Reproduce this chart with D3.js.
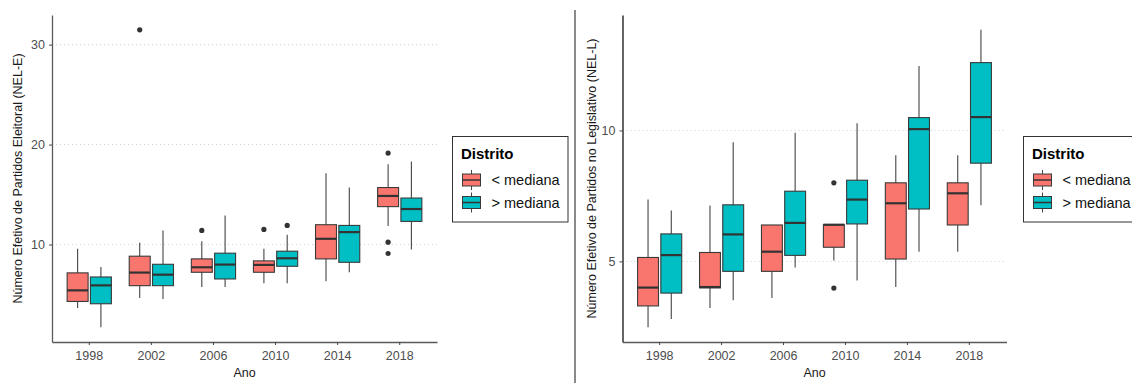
<!DOCTYPE html>
<html lang="pt">

<head>
    <meta charset="UTF-8">
    <title>NEL-E e NEL-L por Ano e Distrito</title>
    <script src="https://d3js.org/d3.v7.min.js"></script>
    <style>
        body {
            margin: 0;
            background: #fff;
            font-family: "Liberation Sans", Arial, sans-serif;
        }

        .axis text {
            font-size: 12.5px;
            fill: #4d4d4d;
        }

        .titulo-eixo {
            font-size: 12.5px;
            fill: #1a1a1a;
        }

        .grade line {
            stroke: #cfcfcf;
            stroke-dasharray: 1, 3;
        }
    </style>
</head>

<body>
    <div id="chart"></div>

    <script>
        // Dados: [limite inferior, Q1, mediana, Q3, limite superior]
        const anos = ["1998", "2002", "2006", "2010", "2014", "2018"];
        const distritos = ["< mediana", "> mediana"];

        const nelE_menor = [
            [3.64, 4.30, 5.41, 7.16, 9.57],
            [4.64, 5.88, 7.19, 8.83, 10.17],
            [5.75, 7.22, 7.72, 8.56, 10.33],
            [6.11, 7.22, 7.96, 8.36, 9.57],
            [6.31, 8.56, 10.57, 11.98, 17.14],
            [11.84, 13.79, 14.86, 15.70, 18.04]
        ];
        const nelE_maior = [
            [1.73, 4.07, 5.91, 6.75, 7.76],
            [4.54, 5.88, 6.98, 8.02, 11.41],
            [5.75, 6.55, 7.99, 9.13, 12.91],
            [6.11, 7.82, 8.62, 9.33, 10.97],
            [7.22, 8.22, 11.24, 11.91, 15.70],
            [9.50, 12.31, 13.55, 14.65, 18.31]
        ];
        // outliers: [ano, distrito, valor]
        const nelE_outliers = [
            ["2002", "< mediana", 31.48],
            ["2006", "< mediana", 11.41],
            ["2010", "< mediana", 11.51],
            ["2010", "> mediana", 11.91],
            ["2018", "< mediana", 19.15],
            ["2018", "< mediana", 10.23],
            ["2018", "< mediana", 9.10]
        ];
        const nelE_ticks = [10, 20, 30];

        const nelL_menor = [
            [2.49, 3.30, 4.00, 5.15, 7.36],
            [3.22, 3.99, 4.02, 5.34, 7.13],
            [3.60, 4.62, 5.37, 6.39, 6.39],
            [5.03, 5.54, 6.40, 6.40, 6.40],
            [4.02, 5.09, 7.22, 8.00, 9.05],
            [5.37, 6.39, 7.60, 8.00, 9.05]
        ];
        const nelL_maior = [
            [2.80, 3.79, 5.24, 6.05, 6.94],
            [3.52, 4.62, 6.03, 7.16, 9.55],
            [4.77, 5.23, 6.47, 7.68, 9.91],
            [4.27, 6.43, 7.36, 8.10, 10.27],
            [5.37, 7.00, 10.05, 10.49, 12.46],
            [7.14, 8.75, 10.51, 12.59, 13.84]
        ];
        const nelL_outliers = [
            ["2010", "< mediana", 8.00],
            ["2010", "< mediana", 3.98]
        ];
        const nelL_ticks = [5, 10];

        const cores = d3.scaleOrdinal().domain(distritos).range(["#F8766D", "#00BFC4"]);

        let svg = d3.select("#chart").append("svg")
            .attr("width", 1132)
            .attr("height", 383);

        // linha separadora entre os dois gráficos
        svg.append("line")
            .attr("x1", 575).attr("x2", 575)
            .attr("y1", 10).attr("y2", 383)
            .attr("stroke", "#8a8a8a")
            .attr("stroke-width", 2);

        function montar(menor, maior) {
            let linhas = [];
            anos.forEach((ano, i) => {
                [menor, maior].forEach((serie, j) => {
                    let s = serie[i];
                    linhas.push({ ano: ano, distrito: distritos[j], lo: s[0], q1: s[1], med: s[2], q3: s[3], hi: s[4] });
                });
            });
            return linhas;
        }

        function painel(cfg) {
            let dados = montar(cfg.menor, cfg.maior);
            let g = svg.append("g");

            // escala x discreta (expansão de 0.6 unidade de cada lado)
            let x = d3.scaleBand()
                .domain(anos)
                .range([cfg.x0, cfg.x1])
                .paddingInner(0)
                .paddingOuter(0.1);
            let passo = x.step();

            // dodge das caixas dentro de cada ano
            let xd = d3.scaleBand()
                .domain(distritos)
                .range([-0.375 * passo, 0.375 * passo])
                .paddingInner(0.1)
                .paddingOuter(0.05);

            let todos = dados.flatMap(d => [d.lo, d.hi]).concat(cfg.outliers.map(o => o[2]));
            let ext = d3.extent(todos);
            let margem = (ext[1] - ext[0]) * 0.05;
            let y = d3.scaleLinear()
                .domain([ext[0] - margem, ext[1] + margem])
                .range([342, 15]);

            // linhas de grade pontilhadas
            g.append("g").attr("class", "grade")
                .selectAll("line")
                .data(cfg.ticks)
                .enter().append("line")
                .attr("x1", cfg.x0).attr("x2", cfg.x1)
                .attr("y1", d => y(d)).attr("y2", d => y(d));

            let caixas = g.selectAll(".caixa")
                .data(dados)
                .enter().append("g")
                .attr("class", "caixa")
                .attr("transform", d => `translate(${x(d.ano) + x.bandwidth() / 2},0)`);

            // bigodes
            caixas.append("line")
                .attr("x1", d => xd(d.distrito) + xd.bandwidth() / 2)
                .attr("x2", d => xd(d.distrito) + xd.bandwidth() / 2)
                .attr("y1", d => y(d.hi))
                .attr("y2", d => y(d.lo))
                .attr("stroke", "#444")
                .attr("stroke-width", 1.1);

            caixas.append("rect")
                .attr("x", d => xd(d.distrito))
                .attr("width", xd.bandwidth())
                .attr("y", d => y(d.q3))
                .attr("height", d => y(d.q1) - y(d.q3))
                .attr("fill", d => cores(d.distrito))
                .attr("stroke", "#3a3a3a")
                .attr("stroke-width", 1.1);

            // mediana
            caixas.append("line")
                .attr("x1", d => xd(d.distrito))
                .attr("x2", d => xd(d.distrito) + xd.bandwidth())
                .attr("y1", d => y(d.med))
                .attr("y2", d => y(d.med))
                .attr("stroke", "#333")
                .attr("stroke-width", 2.2);

            // outliers
            g.selectAll(".outlier")
                .data(cfg.outliers)
                .enter().append("circle")
                .attr("class", "outlier")
                .attr("cx", d => x(d[0]) + x.bandwidth() / 2 + xd(d[1]) + xd.bandwidth() / 2)
                .attr("cy", d => y(d[2]))
                .attr("r", 2.6)
                .attr("fill", "#333");

            // eixos
            let eixoY = g.append("g")
                .attr("class", "axis")
                .attr("transform", `translate(${cfg.x0},0)`)
                .call(d3.axisLeft(y).tickValues(cfg.ticks).tickSize(3).tickPadding(4).tickSizeOuter(0));
            eixoY.select(".domain").attr("stroke", cfg.corEixoY).attr("stroke-width", 1.3);
            eixoY.selectAll(".tick line").attr("stroke", "#444");

            let eixoX = g.append("g")
                .attr("class", "axis")
                .attr("transform", "translate(0,342)")
                .call(d3.axisBottom(x).tickSize(3).tickPadding(6).tickSizeOuter(0));
            eixoX.select(".domain").attr("stroke", "#5a5a5a").attr("stroke-width", 1.3);
            eixoX.selectAll(".tick line").attr("stroke", "#444");

            g.append("text")
                .attr("class", "titulo-eixo")
                .attr("x", (cfg.x0 + cfg.x1) / 2)
                .attr("y", 377)
                .attr("text-anchor", "middle")
                .text("Ano");

            g.append("text")
                .attr("class", "titulo-eixo")
                .attr("transform", `translate(${cfg.tituloX},178.5) rotate(-90)`)
                .attr("text-anchor", "middle")
                .attr("dy", "0.35em")
                .text(cfg.tituloY);

            // legenda
            let leg = g.append("g").attr("transform", `translate(${cfg.legX},136.5)`);
            leg.append("rect")
                .attr("width", 115.5)
                .attr("height", 85.5)
                .attr("fill", "#fff")
                .attr("stroke", "#333")
                .attr("stroke-width", 1);
            leg.append("text")
                .attr("x", 8.5)
                .attr("y", 22.5)
                .style("font-size", "15px")
                .style("font-weight", "bold")
                .attr("fill", "#000")
                .text("Distrito");

            distritos.forEach((dist, i) => {
                let cy = 43.5 + i * 22.5;
                let item = leg.append("g");
                item.append("line")
                    .attr("x1", 19).attr("x2", 19)
                    .attr("y1", cy - 10).attr("y2", cy + 10)
                    .attr("stroke", "#444");
                item.append("rect")
                    .attr("x", 10).attr("y", cy - 6)
                    .attr("width", 18).attr("height", 12)
                    .attr("fill", cores(dist))
                    .attr("stroke", "#3a3a3a");
                item.append("line")
                    .attr("x1", 10).attr("x2", 28)
                    .attr("y1", cy).attr("y2", cy)
                    .attr("stroke", "#333")
                    .attr("stroke-width", 1.5);
                item.append("text")
                    .attr("x", 39)
                    .attr("y", cy)
                    .attr("dy", "0.36em")
                    .style("font-size", "14.5px")
                    .attr("fill", "#111")
                    .text(dist);
            });
        }

        painel({
            menor: nelE_menor, maior: nelE_maior, outliers: nelE_outliers, ticks: nelE_ticks,
            x0: 52, x1: 437, legX: 452.5, tituloX: 18, corEixoY: "#5a5a5a",
            tituloY: "Número Efetivo de Partidos Eleitoral (NEL-E)"
        });

        painel({
            menor: nelL_menor, maior: nelL_maior, outliers: nelL_outliers, ticks: nelL_ticks,
            x0: 622.5, x1: 1006.5, legX: 1023.5, tituloX: 591.5, corEixoY: "#111",
            tituloY: "Número Efetivo de Partidos no Legislativo (NEL-L)"
        });
    </script>
</body>

</html>
